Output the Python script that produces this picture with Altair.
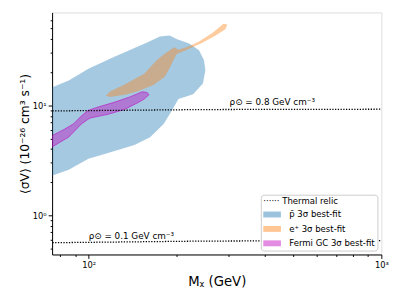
import altair as alt
import pandas as pd

# --- region outlines (M_chi in GeV, <sigma v> in 1e-26 cm^3/s)
pbar_m = [75.2, 85.5, 99.8, 121.9, 158.4, 175.1, 189.1, 199.5, 220.5, 238.2, 247.6, 250.5,
          245.7, 227.4, 202.6, 192.0, 180.6, 162.1, 143.3, 116.4, 99.8, 85.5, 75.2]
pbar_s = [14.6, 16.8, 21.5, 27.5, 37.3, 42.2, 43.1, 40.1, 36.6, 31.7, 25.8, 21.0,
          15.8, 12.6, 11.4, 8.90, 6.82, 5.12, 4.35, 3.69, 3.26, 2.60, 2.30]

pos_m = [114.6, 118.2, 132.7, 154.8, 171.1, 184.8, 196.5, 202.6, 220.5, 238.2, 265.3, 288.7,
         297.8, 293.2, 271.5, 245.7, 227.4, 199.5, 193.5, 189.1, 181.9, 167.1, 146.6, 132.7, 118.2]
pos_s = [12.2, 13.4, 15.5, 19.4, 25.8, 30.4, 33.7, 32.0, 34.4, 38.1, 45.8, 55.1,
         54.5, 49.2, 43.1, 37.3, 34.0, 29.2, 24.8, 21.9, 18.2, 15.4, 13.4, 12.5, 11.9]

gc_m = [75.2, 82.3, 88.9, 94.5, 99.8, 107.7, 122.8, 138.9, 152.4, 158.4, 160.8, 154.8,
        146.6, 132.7, 116.4, 102.1, 99.8, 94.5, 85.5, 75.2]
gc_s = [5.33, 6.03, 6.82, 8.03, 9.03, 9.66, 10.7, 12.0, 13.3, 13.1, 12.5, 11.4,
        10.5, 9.18, 8.28, 7.71, 7.51, 6.78, 5.15, 4.20]

# thermal relic lines
relic_hi_m = [75.2, 251.0, 1000.0]
relic_hi_s = [8.90, 9.16, 9.22]
relic_lo_m = [75.2, 251.0, 1000.0]
relic_lo_s = [0.563, 0.583, 0.587]

# annotations
note_m = [303.0, 100.0]
note_s = [10.06, 0.611]
note_text = ["ρ⊙ = 0.8 GeV cm⁻³", "ρ⊙ = 0.1 GeV cm⁻³"]

region_names = ["p̄ 3σ best-fit", "e⁺ 3σ best-fit", "Fermi GC 3σ best-fit"]
region_colors = ["#1f77b4", "#ff7f0e", "#bf00bf"]
region_alpha = [0.4, 0.4, 0.55]

x_ticks = [80, 90, 100, 200, 300, 400, 500, 600, 700, 800, 900, 1000]
y_ticks = [0.5, 0.6, 0.7, 0.8, 0.9, 1, 2, 3, 4, 5, 6, 7, 8, 9, 10, 20, 30, 40, 50, 60]

rows = []
for name, ms, ss in zip(region_names, [pbar_m, pos_m, gc_m], [pbar_s, pos_s, gc_s]):
    for i, (m, s) in enumerate(zip(ms, ss)):
        rows.append({"region": name, "idx": i, "m": m, "s": s})
poly = pd.DataFrame(rows)

lrows = []
for name, ms, ss in [("hi", relic_hi_m, relic_hi_s), ("lo", relic_lo_m, relic_lo_s)]:
    for i, (m, s) in enumerate(zip(ms, ss)):
        lrows.append({"line": name, "idx": i, "m": m, "s": s})
lines = pd.DataFrame(lrows)
notes = pd.DataFrame({"m": note_m, "s": note_s, "t": note_text})

FONT = "DejaVu Sans"

xscale = alt.Scale(type="log", domain=[75, 1000], nice=False)
yscale = alt.Scale(type="log", domain=[0.44, 70], nice=False)

xaxis = alt.Axis(
    title="Mᵪ (GeV)", values=x_ticks,
    labelExpr="datum.value == 100 ? '10²' : datum.value == 1000 ? '10³' : ''",
    tickSize={"condition": {"test": "datum.value == 100 || datum.value == 1000", "value": 4}, "value": 2},
    grid=False, labelFlush=False, labelOverlap=False, labelPadding=2,
    labelFont=FONT, labelFontSize=8.5, labelColor="black",
    titleFont=FONT, titleFontSize=13.5, titleFontWeight="normal", titleColor="black", titlePadding=6,
    domainColor="black", tickColor="black",
)
yaxis = alt.Axis(
    title="⟨σV⟩ (10⁻²⁶ cm³ s⁻¹)", values=y_ticks,
    labelExpr="datum.value == 1 ? '10⁰' : datum.value == 10 ? '10¹' : ''",
    tickSize={"condition": {"test": "datum.value == 1 || datum.value == 10", "value": 4}, "value": 2},
    grid=False, labelFlush=False, labelOverlap=False, labelPadding=2,
    labelFont=FONT, labelFontSize=8.5, labelColor="black",
    titleFont=FONT, titleFontSize=12.5, titleFontWeight="normal", titleColor="black", titlePadding=1,
    domainColor="black", tickColor="black",
)

legend = alt.Legend(
    title="······   Thermal relic", orient="bottom-right", offset=4, padding=2.5,
    fillColor="white", strokeColor="#cccccc", cornerRadius=3,
    symbolType="M-2,-0.67H2V0.67H-2Z", symbolSize=81, symbolStrokeWidth=0,
    symbolOffset=4.5, symbolOpacity=0.45,
    labelFont=FONT, labelFontSize=8.7, labelColor="black", labelOffset=13,
    titleFont=FONT, titleFontSize=8.7, titleFontWeight="normal", titleColor="black",
    titlePadding=4.5, rowPadding=4.7,
)

fill_enc = alt.Fill("region:N", scale=alt.Scale(domain=region_names, range=region_colors), legend=legend)
op_enc = alt.FillOpacity("region:N", scale=alt.Scale(domain=region_names, range=region_alpha), legend=None)

base = alt.Chart(poly)

def region_layer(name, **mk):
    return base.transform_filter(alt.datum.region == name).mark_line(
        interpolate="linear-closed", clip=True, **mk
    ).encode(
        x=alt.X("m:Q", scale=xscale, axis=xaxis),
        y=alt.Y("s:Q", scale=yscale, axis=yaxis),
        order="idx:Q",
        fill=fill_enc,
        fillOpacity=op_enc,
    )

blue = region_layer(region_names[0], strokeOpacity=0)
orange = region_layer(region_names[1], strokeOpacity=0)
purple = region_layer(region_names[2], stroke="#bf00bf", strokeWidth=0.8, strokeOpacity=0.7)

relic = alt.Chart(lines).mark_line(
    color="black", strokeWidth=1.3, strokeDash=[1.3, 1.5], clip=True
).encode(
    x=alt.X("m:Q", scale=xscale),
    y=alt.Y("s:Q", scale=yscale),
    detail="line:N",
    order="idx:Q",
)

text = alt.Chart(notes).mark_text(
    align="left", baseline="alphabetic", font=FONT, fontSize=9, color="black"
).encode(
    x=alt.X("m:Q", scale=xscale),
    y=alt.Y("s:Q", scale=yscale),
    text="t:N",
)

chart = alt.layer(blue, orange, purple, relic, text).properties(
    width=336, height=247,
    autosize=alt.AutoSizeParams(type="none"),
    padding={"left": 45, "top": 1.5, "right": 18, "bottom": 48},
).configure_view(stroke="black", strokeWidth=1).configure(background="white")

chart.save("out.html", embed_options={"renderer": "svg", "actions": False})
